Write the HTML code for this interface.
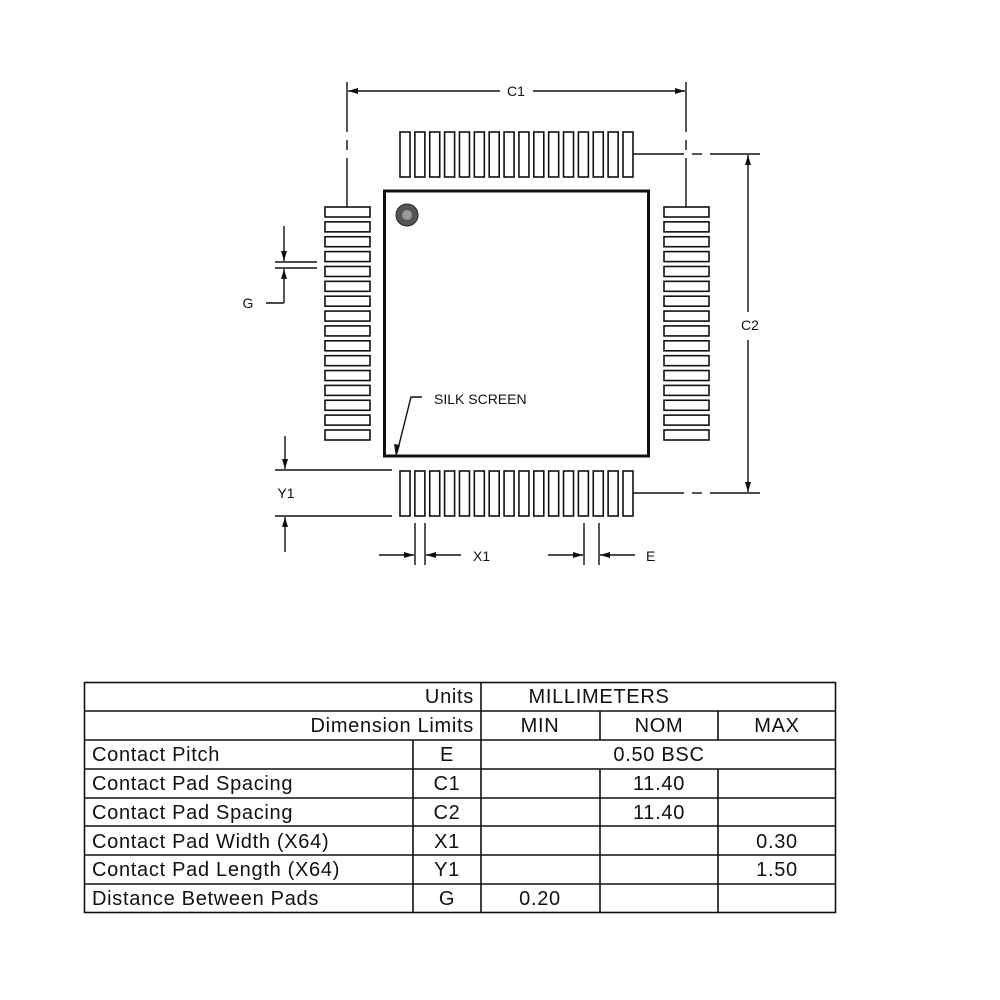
<!DOCTYPE html>
<html><head><meta charset="utf-8"><style>
html,body{margin:0;padding:0;background:#fff;}
svg{display:block;}
text{font-family:"Liberation Sans",Arial,sans-serif;fill:#111;}
.tb text{letter-spacing:0.7px;}
</style></head><body>
<svg width="1000" height="1000" viewBox="0 0 1000 1000" xmlns="http://www.w3.org/2000/svg">
<defs>
<marker id="ar" viewBox="0 0 10 6" refX="10" refY="3" markerWidth="11" markerHeight="6" markerUnits="userSpaceOnUse" orient="auto"><path d="M0,0 L10,3 L0,6 z" fill="#111"/></marker>
<rect id="vp" x="0" y="0" width="10" height="45" fill="#fff" stroke="#111" stroke-width="1.6"/>
<rect id="hp" x="0" y="0" width="45" height="10" fill="#fff" stroke="#111" stroke-width="1.6"/>
<g id="vrow">
<use href="#vp" x="0"/><use href="#vp" x="14.87"/><use href="#vp" x="29.73"/><use href="#vp" x="44.6"/>
<use href="#vp" x="59.47"/><use href="#vp" x="74.33"/><use href="#vp" x="89.2"/><use href="#vp" x="104.07"/>
<use href="#vp" x="118.93"/><use href="#vp" x="133.8"/><use href="#vp" x="148.67"/><use href="#vp" x="163.53"/>
<use href="#vp" x="178.4"/><use href="#vp" x="193.27"/><use href="#vp" x="208.13"/><use href="#vp" x="223"/>
</g>
<g id="hcol">
<use href="#hp" y="0"/><use href="#hp" y="14.87"/><use href="#hp" y="29.73"/><use href="#hp" y="44.6"/>
<use href="#hp" y="59.47"/><use href="#hp" y="74.33"/><use href="#hp" y="89.2"/><use href="#hp" y="104.07"/>
<use href="#hp" y="118.93"/><use href="#hp" y="133.8"/><use href="#hp" y="148.67"/><use href="#hp" y="163.53"/>
<use href="#hp" y="178.4"/><use href="#hp" y="193.27"/><use href="#hp" y="208.13"/><use href="#hp" y="223"/>
</g>
</defs>

<use href="#vrow" x="400" y="132"/>
<use href="#vrow" x="400" y="471"/>
<use href="#hcol" x="325" y="207"/>
<use href="#hcol" x="664" y="207"/>

<rect x="384.5" y="191" width="264" height="265" fill="none" stroke="#111" stroke-width="3"/>
<circle cx="407" cy="215" r="11" fill="#555" stroke="#222" stroke-width="1"/>
<circle cx="407" cy="215" r="5" fill="#999"/>

<g stroke="#111" stroke-width="1.4" fill="none">
<line x1="347" y1="82" x2="347" y2="132"/><line x1="347" y1="140" x2="347" y2="150"/><line x1="347" y1="158" x2="347" y2="207"/>
<line x1="686" y1="82" x2="686" y2="132"/><line x1="686" y1="140" x2="686" y2="150"/><line x1="686" y1="158" x2="686" y2="207"/>
<line x1="500" y1="91" x2="348" y2="91" marker-end="url(#ar)"/>
<line x1="533" y1="91" x2="685" y2="91" marker-end="url(#ar)"/>
<line x1="633" y1="154" x2="684" y2="154"/><line x1="692" y1="154" x2="702" y2="154"/><line x1="710" y1="154" x2="760" y2="154"/>
<line x1="633" y1="493" x2="684" y2="493"/><line x1="692" y1="493" x2="702" y2="493"/><line x1="710" y1="493" x2="760" y2="493"/>
<line x1="748" y1="312" x2="748" y2="155" marker-end="url(#ar)"/>
<line x1="748" y1="340" x2="748" y2="492" marker-end="url(#ar)"/>
<line x1="275" y1="262" x2="317" y2="262"/><line x1="275" y1="268" x2="317" y2="268"/>
<line x1="284" y1="226" x2="284" y2="261" marker-end="url(#ar)"/>
<line x1="284" y1="303" x2="284" y2="269" marker-end="url(#ar)"/>
<line x1="266" y1="303" x2="284" y2="303"/>
<line x1="275" y1="470" x2="392" y2="470"/><line x1="275" y1="516" x2="392" y2="516"/>
<line x1="285" y1="436" x2="285" y2="469" marker-end="url(#ar)"/>
<line x1="285" y1="552" x2="285" y2="517" marker-end="url(#ar)"/>
<line x1="415" y1="523" x2="415" y2="565"/><line x1="425" y1="523" x2="425" y2="565"/>
<line x1="379" y1="555" x2="414" y2="555" marker-end="url(#ar)"/>
<line x1="461" y1="555" x2="426" y2="555" marker-end="url(#ar)"/>
<line x1="584" y1="523" x2="584" y2="565"/><line x1="599" y1="523" x2="599" y2="565"/>
<line x1="548" y1="555" x2="583" y2="555" marker-end="url(#ar)"/>
<line x1="635" y1="555" x2="600" y2="555" marker-end="url(#ar)"/>
<polyline points="422,397 411,397 397,453"/>
</g>
<path d="M396,457 L394,444 L400,445 z" fill="#111"/>

<g font-size="14">
<text x="516" y="96" text-anchor="middle">C1</text>
<text x="750" y="330" text-anchor="middle">C2</text>
<text x="248" y="308" text-anchor="middle">G</text>
<text x="286" y="498" text-anchor="middle">Y1</text>
<text x="473" y="561">X1</text>
<text x="646" y="561">E</text>
<text x="434" y="404">SILK SCREEN</text>
</g>

<g stroke="#111" stroke-width="1.6" fill="none">
<rect x="84.5" y="682.5" width="751" height="230"/>
<line x1="84" y1="711" x2="836" y2="711"/>
<line x1="84" y1="740" x2="836" y2="740"/>
<line x1="84" y1="769" x2="836" y2="769"/>
<line x1="84" y1="798" x2="836" y2="798"/>
<line x1="84" y1="826" x2="836" y2="826"/>
<line x1="84" y1="855" x2="836" y2="855"/>
<line x1="84" y1="884" x2="836" y2="884"/>
<line x1="481" y1="682" x2="481" y2="912"/>
<line x1="413" y1="740" x2="413" y2="912"/>
<line x1="600" y1="711" x2="600" y2="740"/><line x1="718" y1="711" x2="718" y2="740"/>
<line x1="600" y1="769" x2="600" y2="912"/><line x1="718" y1="769" x2="718" y2="912"/>
</g>
<g class="tb" font-size="20">
<text x="474" y="703" text-anchor="end">Units</text>
<text x="599" y="703" text-anchor="middle">MILLIMETERS</text>
<text x="474" y="732" text-anchor="end">Dimension Limits</text>
<text x="540" y="732" text-anchor="middle">MIN</text>
<text x="659" y="732" text-anchor="middle">NOM</text>
<text x="777" y="732" text-anchor="middle">MAX</text>
<text x="92" y="761">Contact Pitch</text><text x="447" y="761" text-anchor="middle">E</text>
<text x="659" y="761" text-anchor="middle">0.50 BSC</text>
<text x="92" y="790">Contact Pad Spacing</text><text x="447" y="790" text-anchor="middle">C1</text>
<text x="659" y="790" text-anchor="middle">11.40</text>
<text x="92" y="819">Contact Pad Spacing</text><text x="447" y="819" text-anchor="middle">C2</text>
<text x="659" y="819" text-anchor="middle">11.40</text>
<text x="92" y="848">Contact Pad Width (X64)</text><text x="447" y="848" text-anchor="middle">X1</text>
<text x="777" y="848" text-anchor="middle">0.30</text>
<text x="92" y="876">Contact Pad Length (X64)</text><text x="447" y="876" text-anchor="middle">Y1</text>
<text x="777" y="876" text-anchor="middle">1.50</text>
<text x="92" y="905">Distance Between Pads</text><text x="447" y="905" text-anchor="middle">G</text>
<text x="540" y="905" text-anchor="middle">0.20</text>
</g>
</svg>
</body></html>
